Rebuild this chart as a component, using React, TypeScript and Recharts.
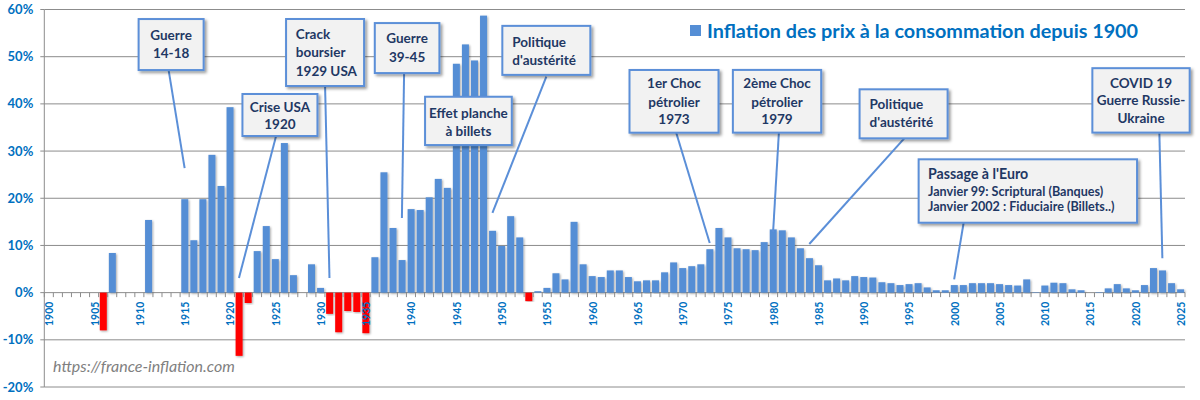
import React from 'react';
import { BarChart, Bar, XAxis, YAxis, CartesianGrid, ReferenceDot } from 'recharts';

const years = [
  1900, 1901, 1902, 1903, 1904, 1905, 1906, 1907, 1908, 1909,
  1910, 1911, 1912, 1913, 1914, 1915, 1916, 1917, 1918, 1919,
  1920, 1921, 1922, 1923, 1924, 1925, 1926, 1927, 1928, 1929,
  1930, 1931, 1932, 1933, 1934, 1935, 1936, 1937, 1938, 1939,
  1940, 1941, 1942, 1943, 1944, 1945, 1946, 1947, 1948, 1949,
  1950, 1951, 1952, 1953, 1954, 1955, 1956, 1957, 1958, 1959,
  1960, 1961, 1962, 1963, 1964, 1965, 1966, 1967, 1968, 1969,
  1970, 1971, 1972, 1973, 1974, 1975, 1976, 1977, 1978, 1979,
  1980, 1981, 1982, 1983, 1984, 1985, 1986, 1987, 1988, 1989,
  1990, 1991, 1992, 1993, 1994, 1995, 1996, 1997, 1998, 1999,
  2000, 2001, 2002, 2003, 2004, 2005, 2006, 2007, 2008, 2009,
  2010, 2011, 2012, 2013, 2014, 2015, 2016, 2017, 2018, 2019,
  2020, 2021, 2022, 2023, 2024, 2025,
];

const inflation: (number | null)[] = [
  null, null, null, null, null, null, -8.0, 8.4, null, null,
  null, 15.4, null, null, null, 19.8, 11.1, 19.8, 29.2, 22.6,
  39.3, -13.4, -2.2, 8.8, 14.1, 7.1, 31.7, 3.7, null, 6.0,
  1.0, -4.5, -8.4, -3.9, -4.1, -8.6, 7.5, 25.5, 13.7, 6.9,
  17.7, 17.5, 20.2, 24.1, 22.2, 48.5, 52.6, 49.2, 58.7, 13.1,
  9.9, 16.2, 11.7, -1.8, 0.3, 1.0, 4.1, 2.8, 15.0, 6.0,
  3.5, 3.3, 4.7, 4.7, 3.3, 2.4, 2.6, 2.6, 4.3, 6.4,
  5.2, 5.6, 6.0, 9.2, 13.7, 11.7, 9.4, 9.2, 9.0, 10.7,
  13.4, 13.2, 11.7, 9.4, 7.3, 5.8, 2.6, 3.0, 2.6, 3.5,
  3.3, 3.2, 2.2, 2.0, 1.6, 1.8, 2.0, 1.1, 0.5, 0.5,
  1.6, 1.6, 2.0, 2.0, 2.0, 1.8, 1.6, 1.5, 2.8, 0.1,
  1.5, 2.1, 2.0, 0.7, 0.5, 0.0, 0.1, 0.9, 1.8, 0.9,
  0.5, 1.6, 5.2, 4.7, 2.0, 0.7,
];

const yTicks = [-20, -10, 0, 10, 20, 30, 40, 50, 60];
const labelYears = [
  1900, 1905, 1910, 1915, 1920, 1925, 1930, 1935, 1940, 1945, 1950, 1955, 1960,
  1965, 1970, 1975, 1980, 1985, 1990, 1995, 2000, 2005, 2010, 2015, 2020, 2025,
];
const seriesName = 'Inflation des prix à la consommation depuis 1900';
const sourceText = 'https://france-inflation.com';

// Callout texts and the data point each one points to
const calloutTexts = [
  ['Guerre', '14-18'],
  ['Crise USA', '1920'],
  ['Crack', 'boursier', '1929 USA'],
  ['Guerre', '39-45'],
  ['Effet planche', 'à billets'],
  ['Politique', "d'austérité"],
  ['1er Choc', 'pétrolier', '1973'],
  ['2ème Choc', 'pétrolier', '1979'],
  ['Politique', "d'austérité"],
  ["Passage à l'Euro", 'Janvier 99: Scriptural (Banques)', 'Janvier 2002 : Fiduciaire (Billets..)'],
  ['COVID 19', 'Guerre Russie-', 'Ukraine'],
];
const calloutYears = [1915, 1921, 1931, 1939, 1946, 1949, 1973, 1980, 1984, 2000, 2023];
const calloutValues = [26.4, 3.1, 3.1, 15.8, 36, 16.9, 10.5, 12.8, 10.3, 2.8, 7.3];

// Layout of the callouts (px offsets relative to the pointed data point)
type Layout = {
  bx: number; by: number; w: number; h: number;
  lx?: number; ly?: number; align: 'left' | 'center'; pad?: number;
  offs: number[]; sizes?: number[];
};
const calloutLayout: Layout[] = [
  { bx: -46, by: -149, w: 65, h: 51, lx: -16, ly: -98, align: 'center', offs: [16, 33.5] },
  { bx: 3.5, by: -184, w: 75, h: 42, lx: 37, ly: -141.5, align: 'center', offs: [12.7, 30.3] },
  { bx: -43.4, by: -259, w: 78, h: 67, lx: -4.4, ly: -192, align: 'left', pad: 9.7, offs: [15.3, 33.5, 51.7] },
  { bx: -27.1, by: -195, w: 64.6, h: 50, lx: 2.2, ly: -145, align: 'center', offs: [15.3, 33.7] },
  { bx: -40.2, by: -26, w: 86.7, h: 48.3, align: 'center', offs: [16, 34] },
  { bx: 9.9, by: -187, w: 88, h: 49, lx: 53.9, ly: -136.3, align: 'left', pad: 10, offs: [15.7, 34] },
  { bx: -80.2, by: -173.1, w: 89, h: 62.7, lx: -33.5, ly: -110.4, align: 'center', offs: [13.3, 31.7, 49.3] },
  { bx: -40.2, by: -162.3, w: 88.3, h: 62.7, lx: 5.8, ly: -99.6, align: 'center', offs: [13.3, 31.7, 49.3] },
  { bx: 50.3, by: -154.7, w: 88, h: 49, lx: 95, ly: -105.7, align: 'left', pad: 10, offs: [15, 33] },
  { bx: -35.5, by: -120.1, w: 218.4, h: 63.4, lx: 9.5, ly: -56.7, align: 'left', pad: 9.4, offs: [13.7, 31.7, 47.4], sizes: [14.2, 12.6, 12.6] },
  { bx: -70, by: -190, w: 97.3, h: 64.4, lx: -3, ly: -125, align: 'center', offs: [14.4, 32.2, 50] },
];

const BAR_BLUE = '#558ED5';
const BAR_RED = '#FF0000';
const LABEL_BLUE = '#0070C0';
const GRID = '#8C8C8C';
const BOX_BORDER = '#5B8FD8';
const BOX_FILL = '#F2F2F2';
const BOX_TEXT = '#1F3864';
const FONT = 'Lato, "Open Sans", sans-serif';
const HALF_BAND = 4.527;

const data = years.map((year, i) => ({ year, value: inflation[i] }));

const BarShape = (props: any) => {
  let { x, y, width, height } = props;
  if (height == null || width == null) return null;
  if (height < 0) {
    y = y + height;
    height = -height;
  }
  if (height <= 0) return null;
  const v = props.payload ? props.payload.value : 0;
  return (
    <rect x={x} y={y} width={width} height={height} fill={v < 0 ? BAR_RED : BAR_BLUE} filter="url(#barShadow)" />
  );
};

const makeTick = (year: number, idx: number) => (p: any) => {
  const { cx, cy } = p;
  if (cx == null || cy == null) return <g />;
  return (
    <g>
      {idx === 0 && <line x1={cx - HALF_BAND} x2={cx - HALF_BAND} y1={cy} y2={cy + 4.5} stroke={GRID} strokeWidth={1} />}
      <line x1={cx + HALF_BAND} x2={cx + HALF_BAND} y1={cy} y2={cy + 4.5} stroke={GRID} strokeWidth={1} />
      {labelYears.includes(year) && (
        <text
          transform={`translate(${cx + 0.5},${cy + 9}) rotate(-90)`}
          textAnchor="end"
          dominantBaseline="central"
          fontFamily={FONT}
          fontWeight={700}
          fontSize={10.5}
          fill={LABEL_BLUE}
        >
          {year}
        </text>
      )}
    </g>
  );
};

const makeCallout = (lines: string[], L: Layout) => (p: any) => {
  const { cx, cy } = p;
  if (cx == null || cy == null) return <g />;
  const bx = cx + L.bx;
  const by = cy + L.by;
  return (
    <g>
      {L.lx !== undefined && L.ly !== undefined && (
        <line x1={cx} y1={cy} x2={cx + L.lx} y2={cy + L.ly} stroke={BOX_BORDER} strokeWidth={2} />
      )}
      <rect x={bx} y={by} width={L.w} height={L.h} fill={BOX_FILL} stroke={BOX_BORDER} strokeWidth={2} filter="url(#boxShadow)" />
      {lines.map((t, i) => (
        <text
          key={i}
          x={L.align === 'left' ? bx + (L.pad || 10) : bx + L.w / 2}
          y={by + L.offs[i]}
          textAnchor={L.align === 'left' ? 'start' : 'middle'}
          dominantBaseline="central"
          fontFamily={FONT}
          fontWeight={700}
          fontSize={L.sizes ? L.sizes[i] : 13.5}
          fill={BOX_TEXT}
        >
          {t}
        </text>
      ))}
    </g>
  );
};

export default function App() {
  return (
    <div style={{ position: 'absolute', left: 0, top: 0, width: 1200, height: 400, background: '#fff', fontFamily: FONT }}>
      <svg width={0} height={0} style={{ position: 'absolute' }}>
        <defs>
          <filter id="barShadow" x="-50%" y="-10%" width="200%" height="120%">
            <feDropShadow dx={1} dy={1} stdDeviation={1} floodColor="#000" floodOpacity={0.35} />
          </filter>
          <filter id="boxShadow" x="-20%" y="-20%" width="150%" height="150%">
            <feDropShadow dx={2} dy={2} stdDeviation={1.8} floodColor="#000" floodOpacity={0.4} />
          </filter>
        </defs>
      </svg>
      <BarChart
        width={1200}
        height={400}
        data={data}
        margin={{ top: 9.5, right: 15, bottom: 13, left: 0 }}
        barCategoryGap="13%"
      >
        <CartesianGrid vertical={false} stroke={GRID} strokeWidth={1} />
        <XAxis dataKey="year" type="category" hide />
        <YAxis
          domain={[-20, 60]}
          ticks={yTicks}
          width={44.3}
          tickFormatter={(v: number) => `${v}%`}
          axisLine={{ stroke: GRID }}
          tickLine={{ stroke: GRID }}
          tickSize={4}
          tickMargin={7}
          interval={0}
          tick={{ fill: LABEL_BLUE, fontSize: 13, fontWeight: 700, fontFamily: FONT }}
        />
        <Bar dataKey="value" name={seriesName} isAnimationActive={false} shape={BarShape} />
        {years.map((yr, i) => (
          <ReferenceDot key={`t${yr}`} x={yr} y={0} r={1} ifOverflow="visible" shape={makeTick(yr, i)} />
        ))}
        {calloutTexts.map((lines, i) => (
          <ReferenceDot
            key={`c${i}`}
            x={calloutYears[i]}
            y={calloutValues[i]}
            r={1}
            ifOverflow="visible"
            shape={makeCallout(lines, calloutLayout[i])}
          />
        ))}
      </BarChart>
      <div
        style={{
          position: 'absolute',
          left: 690,
          top: 17,
          display: 'flex',
          alignItems: 'center',
          color: LABEL_BLUE,
          fontWeight: 700,
          fontSize: 19.8,
          fontFamily: FONT,
          whiteSpace: 'nowrap',
          background: '#fff',
          lineHeight: '26px',
        }}
      >
        <span style={{ display: 'inline-block', width: 11, height: 11, background: BAR_BLUE, marginRight: 6 }} />
        {seriesName}
      </div>
      <div
        style={{
          position: 'absolute',
          left: 53,
          top: 356,
          color: '#808080',
          fontStyle: 'italic',
          fontSize: 16,
          fontFamily: FONT,
          whiteSpace: 'nowrap',
          lineHeight: '20px',
        }}
      >
        {sourceText}
      </div>
    </div>
  );
}
